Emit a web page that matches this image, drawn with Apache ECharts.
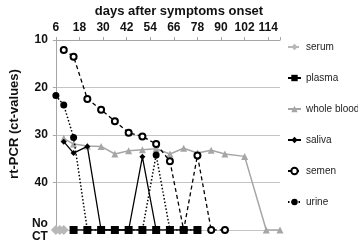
<!DOCTYPE html>
<html>
<head>
<meta charset="utf-8">
<script src="https://cdn.jsdelivr.net/npm/echarts@6/dist/echarts.min.js"></script>
<style>
	html, body { margin: 0; padding: 0; background: #fff; }
	#chart { width: 358px; height: 243px; }
</style>
</head>
<body>
<div id="chart"></div>
<script>
// 50 = no CT value
const NO_CT = 50;

const serumDays = [6, 8, 10];
const serumCt = [50, 50, 50];

const plasmaDays = [15, 22, 29, 36, 43, 50, 57, 64, 71, 78];
const plasmaCt = [50, 50, 50, 50, 50, 50, 50, 50, 50, 50];

const bloodDays = [10, 15, 22, 29, 36, 43, 50, 57, 64, 71, 78, 85, 92, 102, 113, 120];
const bloodCt = [30.7, 31.9, 32.3, 32.4, 34.0, 33.3, 33.1, 32.9, 34.0, 32.8, 33.8, 33.2, 34.0, 34.5, 50, 50];

const salivaDays = [10, 15, 22, 29, 36, 43, 50, 57];
const salivaCt = [31.4, 33.8, 32.4, 50, 50, 50, 34.6, 50];

const semenDays = [10, 15, 22, 29, 36, 43, 50, 57, 64, 71, 78, 85, 92];
const semenCt = [12.1, 13.5, 22.4, 24.7, 27.1, 29.5, 30.3, 31.9, 35.5, 50, 34.3, 50, 50];

const urineDays = [6, 10, 15, 22, 29, 36, 43, 50, 57, 64, 71, 78];
const urineCt = [21.7, 23.7, 30.5, 50, 50, 50, 50, 50, 34.2, 50, 50, 50];

const legendNames = ['serum', 'plasma', 'whole blood', 'saliva', 'semen', 'urine'];

const FONT = 'Liberation Sans, Arial, sans-serif';

// 组合 [x, y]
function pairs(days, values) {
	return days.map((d, i) => [d, values[i]]);
}

const chart = echarts.init(document.getElementById('chart'), null, { renderer: 'canvas' });

chart.setOption({
	animation: false,
	textStyle: { fontFamily: FONT },
	title: {
		text: 'days after symptoms onset',
		left: 'center',
		top: 0,
		textStyle: { fontFamily: FONT, fontSize: 13, fontWeight: 'bold', color: '#111' }
	},
	grid: { left: 44, right: 78, top: 40, bottom: 11, containLabel: false },
	legend: {
		data: legendNames,
		orient: 'vertical',
		left: 287,
		top: 41,
		padding: 0,
		itemWidth: 13,
		itemHeight: 8,
		itemGap: 19,
		textStyle: { fontFamily: FONT, fontSize: 10, color: '#222', lineHeight: 12 }
	},
	xAxis: {
		type: 'value',
		position: 'top',
		min: 6,
		max: 120,
		interval: 12,
		axisLine: { show: true, lineStyle: { color: '#a6a6a6' } },
		axisTick: { show: true, inside: false, length: 3, lineStyle: { color: '#a6a6a6' } },
		splitLine: { show: false },
		axisLabel: {
			margin: 6,
			fontFamily: FONT,
			fontSize: 12,
			fontWeight: 'bold',
			color: '#111',
			formatter: v => (v === 120 ? '' : v)
		}
	},
	yAxis: {
		type: 'value',
		inverse: true,
		min: 10,
		max: NO_CT,
		interval: 10,
		name: 'rt-PCR (ct-values)',
		nameLocation: 'middle',
		nameRotate: 90,
		nameGap: 26,
		nameTextStyle: { fontFamily: FONT, fontSize: 13, fontWeight: 'bold', color: '#111', padding: [0, 0, 0, 22] },
		axisLine: { show: true, lineStyle: { color: '#a6a6a6' } },
		axisTick: { show: true, length: 3, lineStyle: { color: '#a6a6a6' } },
		splitLine: { show: true, lineStyle: { color: '#c4c4c4' } },
		axisLabel: {
			margin: 8,
			fontFamily: FONT,
			fontSize: 12,
			fontWeight: 'bold',
			color: '#111',
			lineHeight: 13,
			formatter: v => (v === NO_CT ? 'No\nCT' : v)
		}
	},
	series: [
		{
			name: 'serum',
			type: 'line',
			data: pairs(serumDays, serumCt),
			symbol: 'diamond',
			symbolSize: 10,
			itemStyle: { color: '#b8b8b8' },
			lineStyle: { color: '#b8b8b8', width: 1.3, type: [4, 3] },
			z: 2
		},
		{
			name: 'plasma',
			type: 'line',
			data: pairs(plasmaDays, plasmaCt),
			symbol: 'rect',
			symbolSize: 8,
			itemStyle: { color: '#000' },
			lineStyle: { color: '#000', width: 1.3 },
			z: 8
		},
		{
			name: 'whole blood',
			type: 'line',
			data: pairs(bloodDays, bloodCt),
			symbol: 'triangle',
			symbolSize: 7,
			itemStyle: { color: '#a6a6a6' },
			lineStyle: { color: '#a6a6a6', width: 1.5 },
			z: 3
		},
		{
			name: 'saliva',
			type: 'line',
			data: pairs(salivaDays, salivaCt),
			symbol: 'diamond',
			symbolSize: 6,
			itemStyle: { color: '#000' },
			lineStyle: { color: '#000', width: 1.3 },
			z: 4
		},
		{
			name: 'semen',
			type: 'line',
			data: pairs(semenDays, semenCt),
			symbol: 'emptyCircle',
			symbolSize: 6,
			itemStyle: { color: '#000', borderWidth: 1 },
			lineStyle: { color: '#000', width: 1.3, type: [4, 3] },
			z: 6
		},
		{
			name: 'urine',
			type: 'line',
			data: pairs(urineDays, urineCt),
			symbol: 'circle',
			symbolSize: 7,
			itemStyle: { color: '#000' },
			lineStyle: { color: '#000', width: 1.5, type: [1.5, 2] },
			z: 5
		}
	]
});
</script>
</body>
</html>
